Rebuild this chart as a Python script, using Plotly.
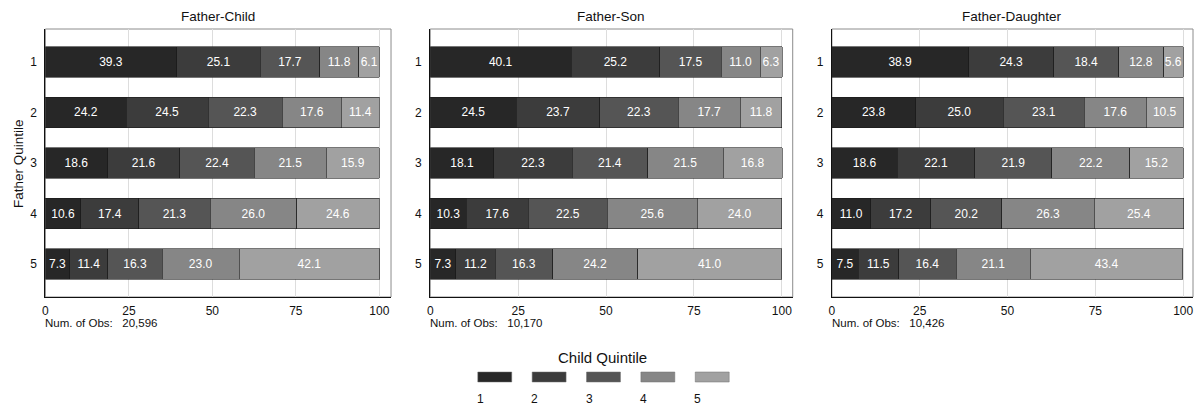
import plotly.graph_objects as go

# Share of children in each child income quintile, by father's quintile (rows 1-5)
father_quintiles = [1, 2, 3, 4, 5]
child_quintiles = ["1", "2", "3", "4", "5"]
panel_titles = ["Father-Child", "Father-Son", "Father-Daughter"]
num_obs = ["20,596", "10,170", "10,426"]

# rows: father quintile 1..5; columns: child quintile 1..5
father_child = [
    [39.3, 25.1, 17.7, 11.8, 6.1],
    [24.2, 24.5, 22.3, 17.6, 11.4],
    [18.6, 21.6, 22.4, 21.5, 15.9],
    [10.6, 17.4, 21.3, 26.0, 24.6],
    [7.3, 11.4, 16.3, 23.0, 42.1],
]
father_son = [
    [40.1, 25.2, 17.5, 11.0, 6.3],
    [24.5, 23.7, 22.3, 17.7, 11.8],
    [18.1, 22.3, 21.4, 21.5, 16.8],
    [10.3, 17.6, 22.5, 25.6, 24.0],
    [7.3, 11.2, 16.3, 24.2, 41.0],
]
father_daughter = [
    [38.9, 24.3, 18.4, 12.8, 5.6],
    [23.8, 25.0, 23.1, 17.6, 10.5],
    [18.6, 22.1, 21.9, 22.2, 15.2],
    [11.0, 17.2, 20.2, 26.3, 25.4],
    [7.5, 11.5, 16.4, 21.1, 43.4],
]
x_ticks = [0, 25, 50, 75, 100]

colors = ["#272727", "#3c3c3c", "#555555", "#868686", "#a1a1a1"]
FONT = "Liberation Sans, Arial, Helvetica, sans-serif"

W, H = 1195, 405
panels = [father_child, father_son, father_daughter]
# plot-area pixel extents (left, right) of each panel and its x range upper bound
px_extent = [(42.5, 389.0), (428.3, 791.7), (831.0, 1193.0)]
x_max = [103.5, 103.1, 102.8]
top_px, bottom_px = 29.0, 297.0
y_dom = [1 - bottom_px / H, 1 - top_px / H]

fig = go.Figure()
layout = dict(
    width=W, height=H,
    margin=dict(l=0, r=0, t=0, b=0),
    paper_bgcolor="white", plot_bgcolor="white",
    barmode="stack", bargap=0.4, showlegend=False,
    font=dict(family=FONT, size=12, color="#111111"),
    uniformtext=dict(minsize=12, mode="show"),
)
annotations = []
shapes = []

for p, data in enumerate(panels):
    sfx = "" if p == 0 else str(p + 1)
    xa, ya = "x" + sfx, "y" + sfx
    for c, cq in enumerate(child_quintiles):
        vals = [row[c] for row in data]
        fig.add_trace(go.Bar(
            x=vals, y=father_quintiles, orientation="h",
            xaxis=xa, yaxis=ya, name=cq,
            marker=dict(color=colors[c], line=dict(color="#1a1a1a", width=0.6)),
            text=[f"{v:.1f}" for v in vals],
            textposition="inside", insidetextanchor="middle", textangle=0,
            textfont=dict(color="white", size=12, family=FONT),
            constraintext="none",
            width=0.6, hoverinfo="x+y+name",
        ))
    l, r = px_extent[p]
    layout["xaxis" + sfx] = dict(
        domain=[l / W, r / W], range=[0, x_max[p]], anchor=ya,
        tickvals=x_ticks, ticktext=[str(t) for t in x_ticks],
        showgrid=True, gridcolor="#dddddd", gridwidth=1, zeroline=False,
        showline=True, linecolor="#111111", linewidth=1.3,
        ticks="", ticklabelstandoff=2,
        tickfont=dict(size=12, color="#111111", family=FONT), fixedrange=True,
    )
    layout["yaxis" + sfx] = dict(
        domain=y_dom, range=[5.65, 0.35], anchor=xa,
        tickvals=father_quintiles, ticktext=[str(q) for q in father_quintiles],
        showgrid=False, zeroline=False,
        showline=True, linecolor="#111111", linewidth=1.3,
        ticks="", ticklabelstandoff=5,
        tickfont=dict(size=12, color="#111111", family=FONT), fixedrange=True,
    )
    # light frame on top/right of each panel
    shapes.append(dict(
        type="rect", xref=xa + " domain", yref=ya + " domain",
        x0=0, x1=1, y0=0, y1=1, line=dict(color="#8c8c8c", width=1),
        layer="below",
    ))
    annotations.append(dict(
        text=panel_titles[p], xref="paper", yref="paper",
        x=(l + r) / 2 / W, y=1 - 17 / H, showarrow=False,
        xanchor="center", yanchor="middle",
        font=dict(size=13.5, color="#111111", family=FONT),
    ))
    annotations.append(dict(
        text=f"Num. of Obs:&nbsp;&nbsp;&nbsp;{num_obs[p]}", xref="paper", yref="paper",
        x=(l - 2) / W, y=1 - 323 / H, showarrow=False,
        xanchor="left", yanchor="middle",
        font=dict(size=11.5, color="#111111", family=FONT),
    ))

# y-axis title
annotations.append(dict(
    text="Father Quintile", xref="paper", yref="paper",
    x=15 / W, y=1 - (top_px + bottom_px) / 2 / H, showarrow=False,
    textangle=-90, xanchor="center", yanchor="middle",
    font=dict(size=13.5, color="#111111", family=FONT),
))

# legend: title, swatches, labels beneath
annotations.append(dict(
    text="Child Quintile", xref="paper", yref="paper",
    x=601 / W, y=1 - 357 / H, showarrow=False,
    xanchor="center", yanchor="middle",
    font=dict(size=15, color="#111111", family=FONT),
))
sw_left0, sw_step, sw_w = 476.0, 54.5, 34.0
for c, cq in enumerate(child_quintiles):
    x0 = sw_left0 + c * sw_step
    shapes.append(dict(
        type="rect", xref="paper", yref="paper",
        x0=x0 / W, x1=(x0 + sw_w) / W, y0=1 - 382 / H, y1=1 - 372 / H,
        fillcolor=colors[c], line=dict(color="#6e6e6e", width=0.5),
    ))
    annotations.append(dict(
        text=cq, xref="paper", yref="paper",
        x=(x0 - 3) / W, y=1 - 399 / H, showarrow=False,
        xanchor="left", yanchor="middle",
        font=dict(size=12, color="#111111", family=FONT),
    ))

layout["annotations"] = annotations
layout["shapes"] = shapes
fig.update_layout(**layout)
fig.write_html("out.html")
